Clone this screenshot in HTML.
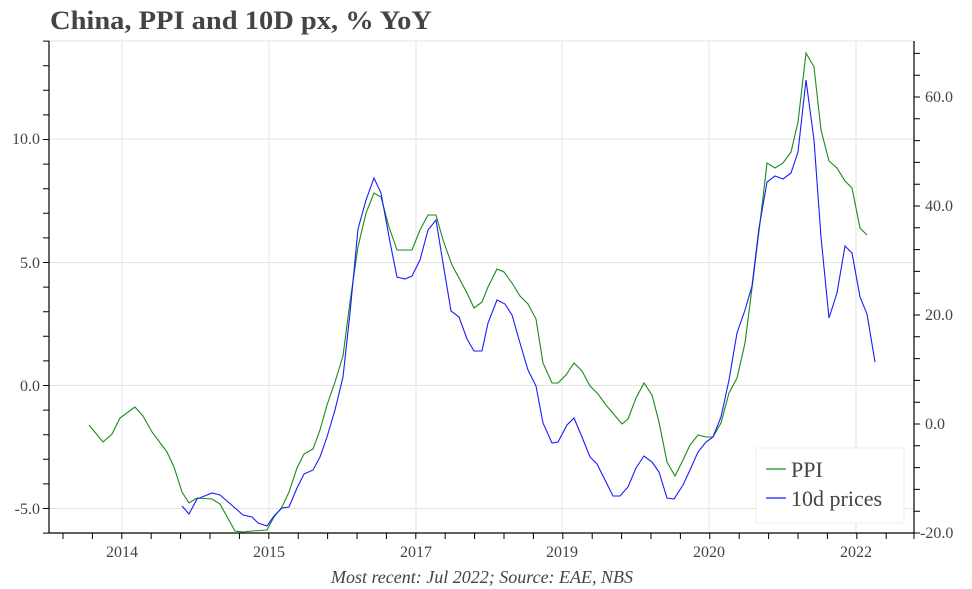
<!DOCTYPE html>
<html><head><meta charset="utf-8"><style>
html,body{margin:0;padding:0;background:#fff;}
svg{display:block;font-family:"Liberation Serif",serif;}
</style></head><body>
<svg width="972" height="589" viewBox="0 0 972 589" xmlns="http://www.w3.org/2000/svg">
<text x="50" y="29" font-size="26" font-weight="bold" fill="#444" textLength="382" lengthAdjust="spacingAndGlyphs">China, PPI and 10D px, % YoY</text>
<g stroke="#e3e3e3" stroke-width="1">
<line x1="49" y1="41" x2="914" y2="41"/>
<line x1="49" y1="139" x2="914" y2="139"/>
<line x1="49" y1="262.5" x2="914" y2="262.5"/>
<line x1="49" y1="385.5" x2="914" y2="385.5"/>
<line x1="49" y1="508.5" x2="914" y2="508.5"/>
<line x1="122" y1="41" x2="122" y2="533"/>
<line x1="269" y1="41" x2="269" y2="533"/>
<line x1="416" y1="41" x2="416" y2="533"/>
<line x1="562" y1="41" x2="562" y2="533"/>
<line x1="709" y1="41" x2="709" y2="533"/>
<line x1="856" y1="41" x2="856" y2="533"/>
</g>
<g stroke="#000" stroke-width="1.2" fill="none">
<line x1="49" y1="41" x2="49" y2="533"/>
<line x1="914" y1="41" x2="914" y2="533"/>
<line x1="49" y1="533" x2="914" y2="533"/>
</g>
<path stroke="#000" stroke-width="1" fill="none" d="
M63,533v6 M92.4,533v6 M121.8,533v6 M151.2,533v6 M180.6,533v6 M210,533v6 M239.4,533v6 M268.8,533v6 M298.2,533v6 M327.6,533v6 M357,533v6 M386.4,533v6 M415.8,533v6 M445.2,533v6 M474.6,533v6 M504,533v6 M533.4,533v6 M562.8,533v6 M592.2,533v6 M621.6,533v6 M651,533v6 M680.4,533v6 M709.8,533v6 M739.2,533v6 M768.6,533v6 M798,533v6 M827.4,533v6 M856.8,533v6 M886.2,533v6 M914,533v6
M43,533.1h6 M43,508.5h6 M43,483.9h6 M43,459.3h6 M43,434.7h6 M43,410.1h6 M43,385.5h6 M43,360.9h6 M43,336.3h6 M43,311.7h6 M43,287.1h6 M43,262.5h6 M43,237.9h6 M43,213.3h6 M43,188.7h6 M43,164.1h6 M43,139.5h6 M43,114.9h6 M43,90.3h6 M43,65.7h6 M43,41.1h6
M914,533h6 M914,511.2h6 M914,489.4h6 M914,467.6h6 M914,445.8h6 M914,424h6 M914,402.2h6 M914,380.4h6 M914,358.6h6 M914,336.8h6 M914,315h6 M914,293.2h6 M914,271.4h6 M914,249.6h6 M914,227.8h6 M914,206h6 M914,184.2h6 M914,162.4h6 M914,140.6h6 M914,118.8h6 M914,97h6 M914,75.2h6 M914,53.4h6"/>
<polyline fill="none" stroke="#1a8a1a" stroke-width="1.1" points="89,425 103,442 112,434 120,418 135,407 143,416 152,432 167,452 174,467 182,492 189,503 197,498 212,499 220,504 235,531 243,532 252,531 267,530 274,517 282,507 289,492 297,468 304,454 313,449 320,430 327,405 335,382 343,356 350,302 358,247 366,213 374,193 381,197 389,227 397,250 412,250 420,230 428,215 436,215 443,240 452,265 459,278 467,293 474,308 482,302 488,287 497,269 504,272 512,283 520,296 528,304 536,319 543,363 552,383 558,383 566,375 574,363 582,371 590,386 598,394 606,405 622,424 628,419 636,398 644,383 652,395 659,422 667,462 675,476 683,460 690,445 698,435 706,437 713,437 721,423 729,393 737,378 745,343 753,280 760,223 767,163 775,168 783,163 791,152 798,122 806,53 814,67 821,130 829,161 837,168 845,181 852,188 860,228 867,235"/>
<polyline fill="none" stroke="#1a1aff" stroke-width="1.1" points="182,506 189,514 197,499 212,493 220,495 235,508 243,515 252,517 258,523 267,526 274,516 282,508 289,507 297,488 304,474 313,470 320,457 327,437 335,410 343,377 350,313 358,229 366,200 374,178 381,193 390,242 397,277 405,279 412,276 420,260 428,230 436,220 443,263 451,311 459,317 467,339 474,351 482,351 488,323 497,300 505,304 512,315 520,343 528,370 536,386 543,423 552,443 558,442 567,425 574,418 582,437 590,457 597,464 613,496 620,496 628,487 636,468 644,456 652,462 659,472 667,498 674,499 683,485 690,470 698,452 706,442 713,437 721,417 729,380 737,333 745,310 752,286 759,228 767,182 775,176 783,179 791,173 798,152 806,80 814,140 821,237 829,318 837,293 845,246 852,253 860,297 867,314 875,362"/>
<g font-size="16" fill="#444">
<text x="40" y="144" text-anchor="end">10.0</text>
<text x="40" y="268" text-anchor="end">5.0</text>
<text x="40" y="391" text-anchor="end">0.0</text>
<text x="40" y="514" text-anchor="end">-5.0</text>
<text x="925" y="102">60.0</text>
<text x="925" y="211">40.0</text>
<text x="925" y="320">20.0</text>
<text x="925" y="429">0.0</text>
<text x="920" y="538">-20.0</text>
<g text-anchor="middle">
<text x="122" y="557">2014</text>
<text x="269" y="557">2015</text>
<text x="416" y="557">2017</text>
<text x="562" y="557">2019</text>
<text x="709" y="557">2020</text>
<text x="856" y="557">2022</text>
</g>
</g>
<text x="482" y="583" font-size="18" font-style="italic" fill="#444" text-anchor="middle">Most recent: Jul 2022; Source: EAE, NBS</text>
<rect x="756" y="448" width="148" height="75" fill="#fff" stroke="#eee"/>
<line x1="766" y1="469" x2="786" y2="469" stroke="#1a8a1a" stroke-width="1.2"/>
<line x1="766" y1="498" x2="786" y2="498" stroke="#1a1aff" stroke-width="1.2"/>
<text x="791" y="477" font-size="22" fill="#444">PPI</text>
<text x="791" y="506" font-size="22" fill="#444">10d prices</text>
</svg>
</body></html>
